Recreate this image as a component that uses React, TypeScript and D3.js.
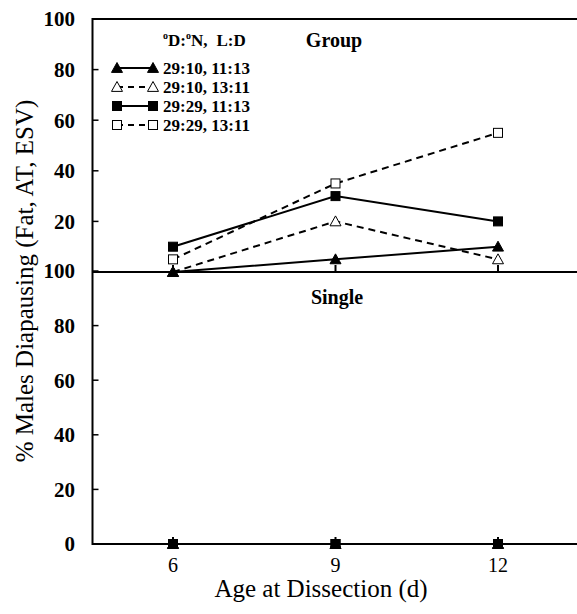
import React from 'react';
import * as d3 from 'd3';

const ages = [6, 9, 12];
const seriesNames = ['29:10, 11:13', '29:10, 13:11', '29:29, 11:13', '29:29, 13:11'];
const groupValues = [
  [0, 5, 10],
  [0, 20, 5],
  [10, 30, 20],
  [5, 35, 55],
];
const singleValues = [
  [0, 0, 0],
  [0, 0, 0],
  [0, 0, 0],
  [0, 0, 0],
];
const topTicks = [20, 40, 60, 80, 100];
const bottomTicks = [0, 20, 40, 60, 80, 100];

const seriesStyle = [
  { shape: 'tri', fill: '#000', dash: null },
  { shape: 'tri', fill: '#fff', dash: '7,5' },
  { shape: 'sq', fill: '#000', dash: null },
  { shape: 'sq', fill: '#fff', dash: '7,5' },
];
// draw order so filled markers end up on top
const drawOrder = [3, 1, 0, 2];

const font = "Liberation Serif, DejaVu Serif, serif";

function Marker({ x, y, shape, fill }: { x: number; y: number; shape: string; fill: string }) {
  if (shape === 'tri') {
    const s = 5.5;
    return (
      <path
        d={`M${x},${y - s} L${x + s},${y + s * 0.8} L${x - s},${y + s * 0.8} Z`}
        fill={fill}
        stroke="#000"
        strokeWidth={1}
      />
    );
  }
  const s = 4.5;
  return <rect x={x - s} y={y - s} width={2 * s} height={2 * s} fill={fill} stroke="#000" strokeWidth={1} />;
}

export default function App() {
  const width = 577;
  const height = 614;
  const left = 92.5;
  const right = 577;

  const x = d3.scaleLinear().domain([6, 12]).range([173, 498]);
  const yTop = d3.scaleLinear().domain([0, 100]).range([272, 19]);
  const yBot = d3.scaleLinear().domain([0, 100]).range([544, 271]);

  const panel = (values: number[][], y: d3.ScaleLinear<number, number>) =>
    drawOrder.map((i) => {
      const vals = values[i];
      const st = seriesStyle[i];
      const line = d3
        .line<number>()
        .x((_, j) => x(ages[j]))
        .y((d) => y(d));
      return (
        <g key={i}>
          <path d={line(vals) || ''} fill="none" stroke="#000" strokeWidth={2} strokeDasharray={st.dash || undefined} />
          {vals.map((v, j) => (
            <Marker key={j} x={x(ages[j])} y={y(v)} shape={st.shape} fill={st.fill} />
          ))}
        </g>
      );
    });

  const legendX1 = 117;
  const legendX2 = 153;
  const legendY = (i: number) => 68 + i * 19;

  return (
    <svg width={width} height={height} fontFamily={font} style={{ position: 'absolute', left: 0, top: 0 }}>
      <rect width={width} height={height} fill="#fff" />
      {/* frame */}
      <line x1={left} x2={right} y1={19} y2={19} stroke="#000" strokeWidth={2} />
      <line x1={left} x2={right} y1={272} y2={272} stroke="#000" strokeWidth={2} />
      <line x1={left} x2={right} y1={544} y2={544} stroke="#000" strokeWidth={2} />
      <line x1={left} x2={left} y1={18} y2={545} stroke="#000" strokeWidth={2} />

      {/* y ticks */}
      {topTicks.map((t) => (
        <g key={'t' + t}>
          <line x1={left} x2={left + 6} y1={yTop(t)} y2={yTop(t)} stroke="#000" strokeWidth={1.5} />
          <text x={75} y={yTop(t)} dy="0.35em" textAnchor="end" fontSize={21} fontWeight="bold">
            {t}
          </text>
        </g>
      ))}
      {bottomTicks.map((t) => (
        <g key={'b' + t}>
          <line x1={left} x2={left + 6} y1={yBot(t)} y2={yBot(t)} stroke="#000" strokeWidth={1.5} />
          <text x={75} y={yBot(t)} dy="0.35em" textAnchor="end" fontSize={21} fontWeight="bold">
            {t}
          </text>
        </g>
      ))}

      {/* x ticks */}
      {ages.map((a) => (
        <g key={'x' + a}>
          <line x1={x(a)} x2={x(a)} y1={272} y2={265} stroke="#000" strokeWidth={2} />
          <line x1={x(a)} x2={x(a)} y1={544} y2={537} stroke="#000" strokeWidth={2} />
          <text x={x(a)} y={572} textAnchor="middle" fontSize={20}>
            {a}
          </text>
        </g>
      ))}

      {panel(groupValues, yTop)}
      {panel(singleValues, yBot)}

      {/* panel titles */}
      <text x={334} y={47} textAnchor="middle" fontSize={20} fontWeight="bold">
        Group
      </text>
      <text x={337} y={304} textAnchor="middle" fontSize={20} fontWeight="bold">
        Single
      </text>

      {/* legend */}
      <text x={163} y={46} fontSize={17} fontWeight="bold">
        <tspan fontSize={10} dy={-7}>o</tspan>
        <tspan dy={7}>D:</tspan>
        <tspan fontSize={10} dy={-7}>o</tspan>
        <tspan dy={7}>N,</tspan>
        <tspan dx={9}>L:D</tspan>
      </text>
      {seriesNames.map((name, i) => {
        const st = seriesStyle[i];
        const y = legendY(i);
        return (
          <g key={name}>
            <line
              x1={legendX1}
              x2={legendX2}
              y1={y}
              y2={y}
              stroke="#000"
              strokeWidth={2}
              strokeDasharray={st.dash ? '6,5' : undefined}
            />
            <Marker x={legendX1} y={y} shape={st.shape} fill={st.fill} />
            <Marker x={legendX2} y={y} shape={st.shape} fill={st.fill} />
            <text x={163} y={y} dy="0.35em" fontSize={17} fontWeight="bold">
              {name}
            </text>
          </g>
        );
      })}

      {/* axis titles */}
      <text x={321} y={597} textAnchor="middle" fontSize={25}>
        Age at Dissection (d)
      </text>
      <text transform="translate(33,281) rotate(-90)" textAnchor="middle" fontSize={25}>
        % Males Diapausing (Fat, AT, ESV)
      </text>
    </svg>
  );
}
